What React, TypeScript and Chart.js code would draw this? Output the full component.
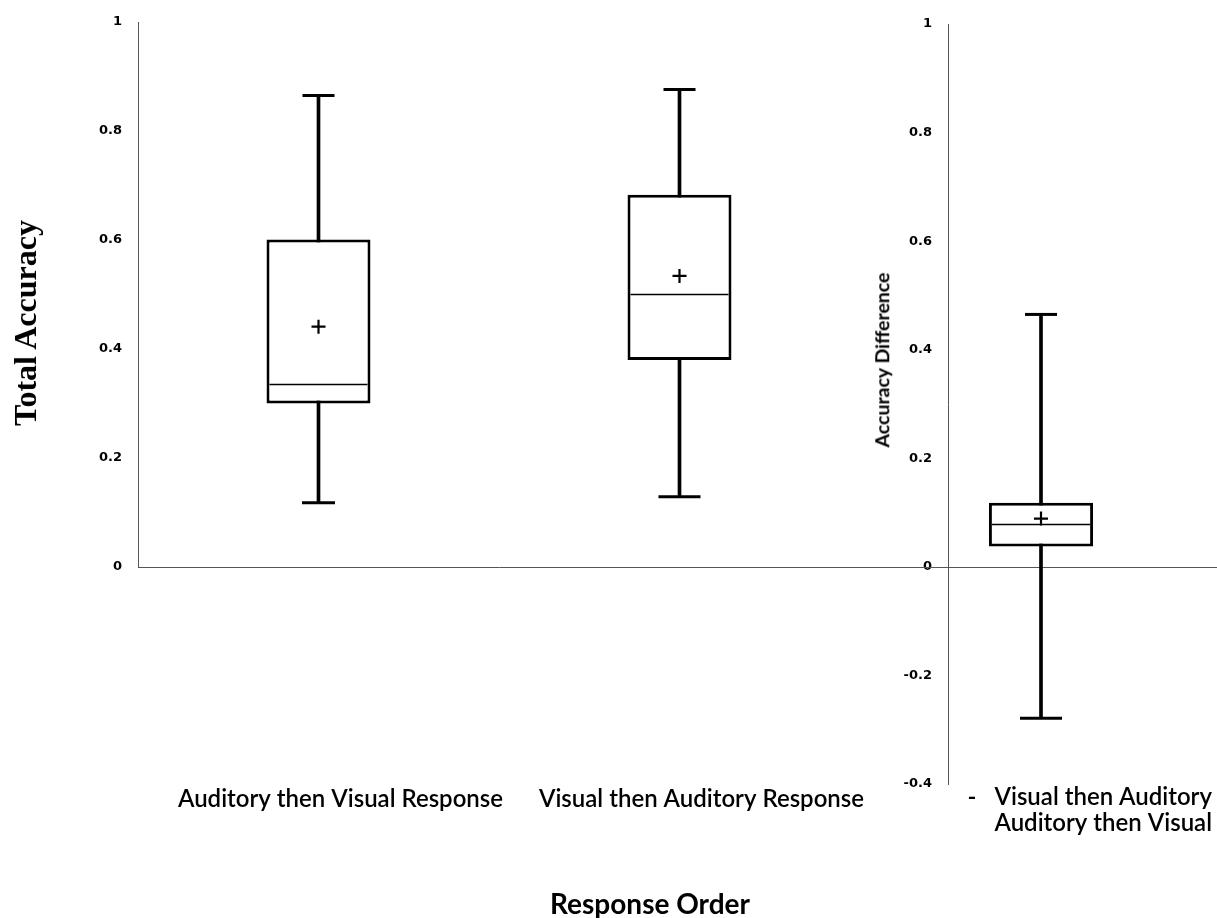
import React, { useEffect, useRef } from 'react';
import { Chart, registerables } from 'chart.js';

Chart.register(...registerables);

// ---------- data ----------
const leftCategories = ['Auditory then Visual Response', 'Visual then Auditory Response'];
const leftMin = [0.118, 0.129];
const leftQ1 = [0.3, 0.38];
const leftMedian = [0.335, 0.5];
const leftMean = [0.441, 0.534];
const leftQ3 = [0.601, 0.683];
const leftMax = [0.865, 0.876];

const rightCategories = [['-   Visual then Auditory', 'Auditory then Visual']];
const rightMin = [-0.279];
const rightQ1 = [0.0375];
const rightMedian = [0.078];
const rightMean = [0.089];
const rightQ3 = [0.118];
const rightMax = [0.465];

const leftAxisRange = [0, 1];
const rightAxisRange = [-0.4, 1];
const tickStep = 0.2;

const leftYTitle = 'Total Accuracy';
const rightYTitle = 'Accuracy Difference';
const xTitle = 'Response Order';

// ---------- styles ----------
const AXIS = '#555';
const INK = '#000';

function fmt(v: number) {
  return String(Number(v.toFixed(1)));
}

function boxDatasets(
  min: number[], q1: number[], med: number[], mean: number[], q3: number[], max: number[],
  barPct: number, medRadius: number, lowCapRadius: number[]
) {
  return [
    {
      type: 'line' as const,
      data: med,
      showLine: false,
      pointStyle: 'line',
      pointRadius: medRadius,
      pointBorderWidth: 1.5,
      pointBorderColor: INK,
      borderColor: INK,
      order: 0,
    },
    {
      type: 'line' as const,
      data: mean,
      showLine: false,
      pointStyle: 'cross',
      pointRadius: 7,
      pointBorderWidth: 2.2,
      pointBorderColor: INK,
      borderColor: INK,
      order: 0,
    },
    {
      type: 'line' as const,
      data: max,
      showLine: false,
      pointStyle: 'line',
      pointRadius: 16,
      pointBorderWidth: 3,
      pointBorderColor: INK,
      borderColor: INK,
      order: 0,
    },
    {
      type: 'line' as const,
      data: min,
      showLine: false,
      pointStyle: 'line',
      pointRadius: lowCapRadius,
      pointBorderWidth: 3,
      pointBorderColor: INK,
      borderColor: INK,
      order: 0,
    },
    {
      type: 'bar' as const,
      data: q1.map((v, i) => [v, q3[i]]),
      backgroundColor: '#fff',
      borderColor: INK,
      borderWidth: 3,
      borderSkipped: false,
      barPercentage: barPct,
      categoryPercentage: 1,
      grouped: false,
      order: 2,
    },
    {
      type: 'bar' as const,
      data: min.map((v, i) => [v, max[i]]),
      backgroundColor: INK,
      borderWidth: 0,
      barThickness: 3,
      grouped: false,
      order: 3,
    },
  ];
}

const zeroLinePlugin = {
  id: 'zeroLine',
  beforeDatasetsDraw(chart: any) {
    const y = Math.round(chart.scales.y.getPixelForValue(0)) + 0.5;
    const ctx = chart.ctx;
    ctx.save();
    ctx.strokeStyle = AXIS;
    ctx.lineWidth = 1;
    ctx.beginPath();
    ctx.moveTo(0, y);
    ctx.lineTo(chart.width, y);
    ctx.stroke();
    ctx.restore();
  },
};

function makeOptions(o: {
  yMin: number; yMax: number; yWidth: number; xHeight: number; padTop: number; padRight: number;
  labelOffset: number; labelPadding: number; align: string; xBorder: boolean;
}) {
  return {
    responsive: false,
    animation: false as const,
    devicePixelRatio: 1,
    layout: { autoPadding: false, padding: { top: o.padTop, right: o.padRight, left: 0, bottom: 0 } },
    plugins: { legend: { display: false }, tooltip: { enabled: false }, title: { display: false } },
    scales: {
      x: {
        type: 'category' as const,
        offset: true,
        grid: { display: false, drawTicks: false },
        border: { display: o.xBorder, color: AXIS, width: 1 },
        ticks: {
          color: INK,
          font: { family: 'Lato', size: 24, weight: 600 as any, lineHeight: 1.1 },
          padding: o.labelPadding,
          labelOffset: o.labelOffset,
          align: o.align as any,
          maxRotation: 0,
          minRotation: 0,
          autoSkip: false,
        },
        afterFit(scale: any) {
          scale.height = o.xHeight;
          scale.paddingLeft = 0;
          scale.paddingRight = 0;
          scale.paddingTop = 0;
          scale.paddingBottom = 0;
        },
      },
      y: {
        type: 'linear' as const,
        min: o.yMin,
        max: o.yMax,
        grid: { display: false, drawTicks: false },
        border: { display: true, color: AXIS, width: 1 },
        ticks: {
          stepSize: tickStep,
          color: INK,
          padding: 16,
          font: { family: 'DejaVu Sans', size: 13, weight: 'bold' as any },
          callback: (v: any) => fmt(Number(v)),
        },
        afterFit(scale: any) {
          scale.width = o.yWidth;
          scale.paddingLeft = 0;
          scale.paddingRight = 0;
          scale.paddingTop = 0;
          scale.paddingBottom = 0;
        },
      },
    },
  };
}

export default function App() {
  const leftRef = useRef<HTMLCanvasElement>(null);
  const rightRef = useRef<HTMLCanvasElement>(null);

  useEffect(() => {
    const left = new Chart(leftRef.current as HTMLCanvasElement, {
      type: 'bar',
      data: {
        labels: leftCategories,
        datasets: boxDatasets(leftMin, leftQ1, leftMedian, leftMean, leftQ3, leftMax, 0.288, 49, [16.5, 21]) as any,
      },
      options: makeOptions({
        yMin: leftAxisRange[0], yMax: leftAxisRange[1], yWidth: 138, xHeight: 918 - 567,
        padTop: 22, padRight: 8, labelOffset: 22, labelPadding: 219, align: 'center', xBorder: true,
      }) as any,
    });
    const right = new Chart(rightRef.current as HTMLCanvasElement, {
      type: 'bar',
      data: {
        labels: rightCategories as any,
        datasets: boxDatasets(rightMin, rightQ1, rightMedian, rightMean, rightQ3, rightMax, 0.56, 49, [21]) as any,
      },
      options: makeOptions({
        yMin: rightAxisRange[0], yMax: rightAxisRange[1], yWidth: 88, xHeight: 918 - 784,
        padTop: 24, padRight: 83, labelOffset: 171, labelPadding: 0, align: 'end', xBorder: false,
      }) as any,
      plugins: [zeroLinePlugin],
    });
    return () => {
      left.destroy();
      right.destroy();
    };
  }, []);

  const titleBase: React.CSSProperties = {
    position: 'absolute',
    whiteSpace: 'nowrap',
    color: INK,
    lineHeight: 1,
  };

  return (
    <div style={{ position: 'absolute', left: 0, top: 0, width: 1217, height: 918, background: '#fff', overflow: 'hidden' }}>
      <canvas ref={leftRef} width={868} height={918} style={{ position: 'absolute', left: 0, top: 0 }} />
      <canvas ref={rightRef} width={357} height={918} style={{ position: 'absolute', left: 860, top: 0 }} />
      <div
        style={{
          ...titleBase,
          left: 25, top: 323,
          transform: 'translate(-50%, -50%) rotate(-90deg)',
          fontFamily: '"Liberation Serif", serif', fontWeight: 'bold', fontSize: 32,
        }}
      >
        {leftYTitle}
      </div>
      <div
        style={{
          ...titleBase,
          left: 882, top: 360,
          transform: 'translate(-50%, -50%) rotate(-90deg)',
          fontFamily: 'Lato, sans-serif', fontWeight: 'bold', fontSize: 19.5,
        }}
      >
        {rightYTitle}
      </div>
      <div
        style={{
          ...titleBase,
          left: 650, top: 903,
          transform: 'translate(-50%, -50%)',
          fontFamily: 'Lato, sans-serif', fontWeight: 'bold', fontSize: 28,
        }}
      >
        {xTitle}
      </div>
    </div>
  );
}
